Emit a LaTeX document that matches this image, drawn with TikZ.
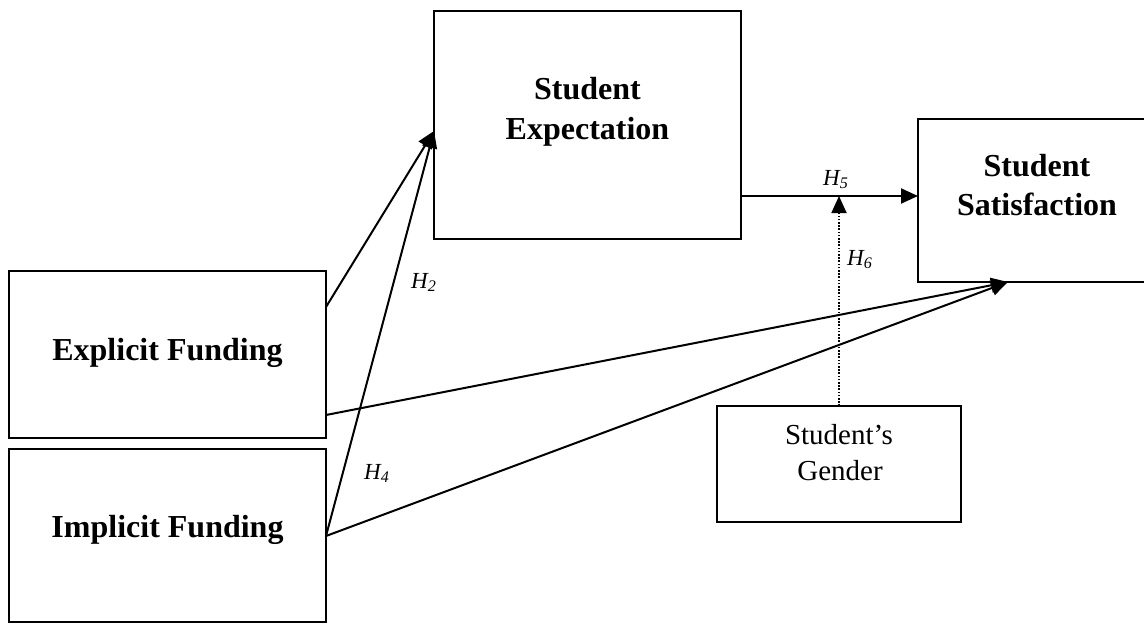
\documentclass[tikz,border=0pt]{standalone}
\usepackage{fontspec}
\setmainfont{Liberation Serif}
\usetikzlibrary{arrows.meta}
\tikzset{
  box/.style={draw=black, line width=2.2pt, rectangle, outer sep=0pt, inner sep=0pt},
  bt/.style={font=\fontsize{32}{40}\selectfont\bfseries, inner sep=0pt, anchor=base},
  rt/.style={font=\fontsize{29}{36}\selectfont, inner sep=0pt, anchor=base},
  hl/.style={font=\fontsize{23}{28}\selectfont\itshape, inner sep=0pt, anchor=base west},
  arr/.style={line width=2pt, -{Triangle[length=17pt,width=15pt]}},
  dotarr/.style={line width=1.8pt, dash pattern=on 1.6pt off 1.6pt, -{Triangle[length=17pt,width=15pt]}}
}
\begin{document}
\begin{tikzpicture}[x=1pt,y=-1pt]
\useasboundingbox (0,0) rectangle (1144,624);
% boxes
\node[box, minimum width=307pt, minimum height=228pt] (exp) at (587.5,125) {};
\node[box, minimum width=238pt, minimum height=163pt] (sat) at (1037,200.5) {};
\node[box, minimum width=317pt, minimum height=167pt] (expl) at (167.5,354.5) {};
\node[box, minimum width=317pt, minimum height=173pt] (imp) at (167.5,535.5) {};
\node[box, minimum width=244pt, minimum height=116pt] (gen) at (839,464) {};
% texts
\node[bt] (t1) at (587.5,99) {Student};
\node[bt] (t2) at (587.5,139) {Expectation};
\node[bt] (t3) at (1037,176) {Student};
\node[bt] (t4) at (1037,215) {Satisfaction};
\node[bt] (t5) at (167.5,360) {Explicit Funding};
\node[bt] (t6) at (167.5,537) {Implicit Funding};
\node[rt] (t7) at (839,444) {Student’s};
\node[rt] (t8) at (840,480) {Gender};
% hypothesis labels
\node[hl] (h2) at (411,288) {H\textsubscript{2}};
\node[hl] (h4) at (364,479) {H\textsubscript{4}};
\node[hl] (h5l) at (823,185) {H\textsubscript{5}};
\node[hl] (h6) at (847,265) {H\textsubscript{6}};
% connectors
\coordinate (h5) at (839,196);
\draw[arr] ([yshift=-36pt]expl.north east) -- ([yshift=-120pt]exp.north west);
\draw[arr] ([yshift=-87pt]imp.north east) -- ([yshift=-120pt]exp.north west);
\draw[arr] ([yshift=23pt]expl.south east) -- ([xshift=90pt]sat.south west);
\draw[arr] ([yshift=-87pt]imp.north east) -- ([xshift=90pt]sat.south west);
\draw[arr] (exp.east |- h5) -- (sat.west |- h5);
\draw[dotarr] (gen.north) -- (gen.north |- h5);
\end{tikzpicture}
\end{document}
